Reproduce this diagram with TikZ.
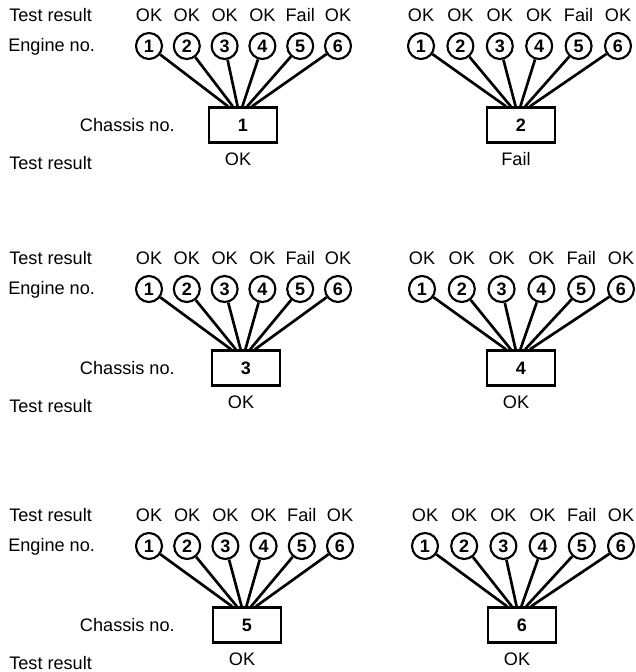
\documentclass[tikz,border=0pt]{standalone}
\usepackage{fontspec}
\setmainfont{Liberation Sans}
\begin{document}
\begin{tikzpicture}[x=0.75pt, y=-0.75pt,
  lab/.style={inner sep=0pt, anchor=base, font=\fontsize{13.6}{15}\selectfont},
  rowlab/.style={lab, anchor=base west},
  engine/.style={draw, circle, line width=1.6pt, minimum size=19.5pt, inner sep=0pt,
    font=\fontsize{13.5}{14}\selectfont\bfseries},
  chassis/.style={draw, rectangle, line width=2pt, minimum width=51pt, minimum height=26pt,
    inner sep=0pt, font=\fontsize{13.5}{14}\selectfont\bfseries},
  wire/.style={line width=2pt}]
\useasboundingbox (0,0) rectangle (636,672);

% #1 name, #2 first engine x, #3 engine spacing, #4 row offset,
% #5 chassis centre x, #6 chassis number, #7 chassis test result
\newcommand{\enginepanel}[7]{%
  \foreach \i/\res in {1/OK,2/OK,3/OK,4/OK,5/Fail,6/OK}{%
    \node[engine] (#1c\i) at ({#2+(\i-1)*#3}, {#4+46}) {\i};
    \node[lab] (#1r\i) at ({#2+(\i-1)*#3}, {#4+21.5}) {\res};
  }
  \node[chassis] (#1b) at (#5, {#4+125}) {#6};
  \foreach \i in {1,...,6}{%
    \coordinate (#1e\i) at ([xshift={(-15+4.8*(\i-1))*0.75pt}]#1b.north);
    \draw[wire] (#1c\i) -- (#1e\i);
  }
  \node[lab] (#1res) at ({#5-5}, {#4+165.5}) {#7};
}

% row captions on the left
\foreach \r/\off in {1/0, 2/243, 3/500}{%
  \node[rowlab] (toplab\r) at (9, {\off+21.5}) {Test result};
  \node[rowlab] (englab\r) at (8, {\off+51.5}) {Engine no.};
  \node[lab, anchor=base east] (chlab\r) at (175, {\off+131}) {Chassis no.};
  \node[rowlab] (botlab\r) at (9, {\off+169.5}) {Test result};
}

\enginepanel{pa}{149}{37.8}{0}{243}{1}{OK}
\enginepanel{pb}{421}{39.4}{0}{521}{2}{Fail}
\enginepanel{pc}{149}{37.8}{243}{246}{3}{OK}
\enginepanel{pd}{422}{39.8}{243}{521}{4}{OK}
\enginepanel{pe}{149}{38.2}{500}{247}{5}{OK}
\enginepanel{pf}{425}{39.2}{500}{522}{6}{OK}
\end{tikzpicture}
\end{document}
